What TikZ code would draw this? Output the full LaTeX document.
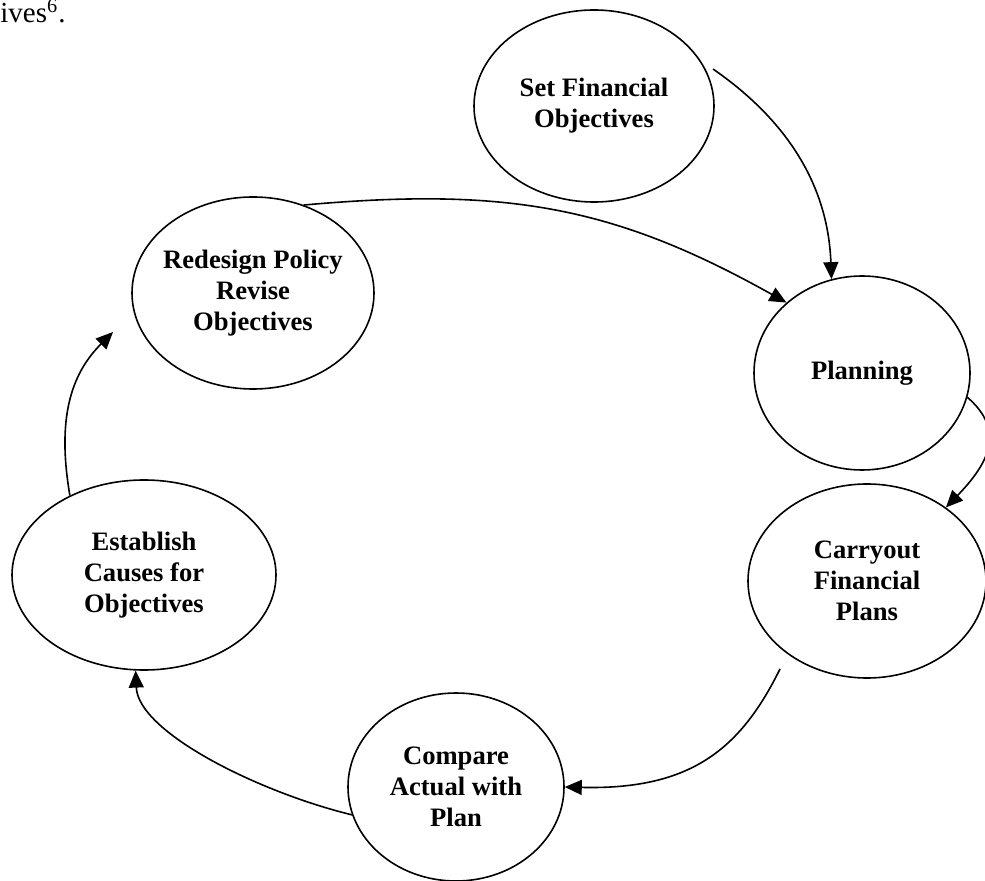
\documentclass[tikz,border=0pt]{standalone}
\usepackage{fontspec}
\setmainfont{Liberation Serif}
\usetikzlibrary{arrows.meta, shapes.geometric, calc}

\begin{document}
\begin{tikzpicture}[
    x=0.5pt, y=-0.5pt,
    stage/.style={draw, ellipse, line width=0.8pt, inner sep=0pt, align=center,
                  font=\fontsize{13.3}{15.5}\selectfont\bfseries},
    flow/.style={->, line width=0.8pt},
    >={Triangle[length=8.5pt, width=7.5pt]}
]
\useasboundingbox (0,0) rectangle (985,881);
\clip (0,0) rectangle (985,881);

\node[anchor=base west, inner sep=0pt, font=\fontsize{14.5}{17}\selectfont] (lead) at (0,23) {ives\textsuperscript{6}.};

\node[stage, minimum width=120pt, minimum height=96pt] (setobj)    at (594,106) {Set Financial\\Objectives};
\node[stage, minimum width=121pt, minimum height=96pt, inner xsep=-4pt] (redesign) at (253,293) {Redesign Policy\\Revise\\Objectives};
\node[stage, minimum width=108pt, minimum height=97pt] (planning)  at (862,373) {Planning};
\node[stage, minimum width=119pt, minimum height=97pt] (carryout)  at (867,581) {Carryout\\Financial\\Plans};
\node[stage, minimum width=108pt, minimum height=94pt] (compare)   at (456,787) {Compare\\Actual with\\Plan};
\node[stage, minimum width=132pt, minimum height=95pt] (establish) at (144,575) {Establish\\Causes for\\Objectives};

\draw[flow] ($(setobj.center)+(119,-37)$) .. controls (788,121) and (828,186) .. (planning.108);
\draw[flow] (redesign.60) .. controls (506,187) and (614,206) .. (planning.137);
\draw[flow] (planning.-13) .. controls (1005,430) and (990,462) .. (carryout.43);
\draw[flow] ($(carryout.center)+(-87,88)$) .. controls (740,750) and (690,790) .. (compare.east);
\draw[flow] (compare.195) .. controls (258,792) and (138,732) .. (establish.265);
\draw[flow] (establish.133) .. controls (57,420) and (70,375) .. ($(redesign.center)+(-140,39)$);
\end{tikzpicture}
\end{document}
